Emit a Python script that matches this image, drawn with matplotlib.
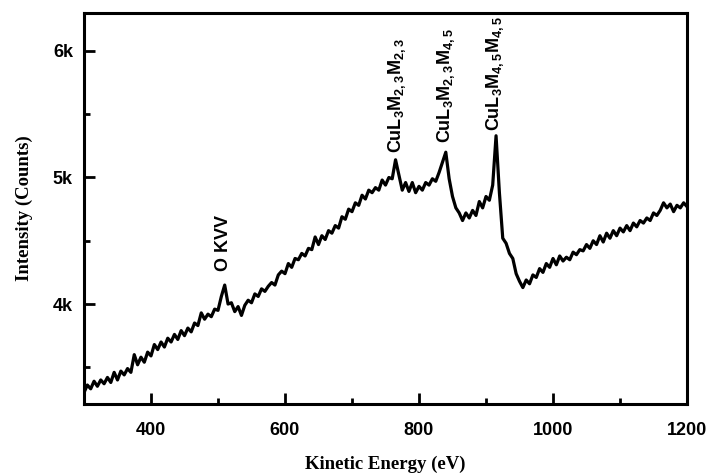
import matplotlib
matplotlib.use("Agg")
import matplotlib.pyplot as plt
from matplotlib.ticker import MultipleLocator, FuncFormatter

# ---- data ----
energy = [300, 305, 310, 315, 320, 325, 330, 335, 340, 345, 350, 355, 360, 365, 370,
          375, 380, 385, 390, 395, 400, 405, 410, 415, 420, 425, 430, 435, 440, 445,
          450, 455, 460, 465, 470, 475, 480, 485, 490, 495, 500, 505, 510, 515, 520,
          525, 530, 535, 540, 545, 550, 555, 560, 565, 570, 575, 580, 585, 590, 595,
          600, 605, 610, 615, 620, 625, 630, 635, 640, 645, 650, 655, 660, 665, 670,
          675, 680, 685, 690, 695, 700, 705, 710, 715, 720, 725, 730, 735, 740, 745,
          750, 755, 760, 765, 770, 775, 780, 785, 790, 795, 800, 805, 810, 815, 820,
          825, 830, 835, 840, 845, 850, 855, 860, 865, 870, 875, 880, 885, 890, 895,
          900, 905, 910, 915, 920, 925, 930, 935, 940, 945, 950, 955, 960, 965, 970,
          975, 980, 985, 990, 995, 1000, 1005, 1010, 1015, 1020, 1025, 1030, 1035, 1040, 1045,
          1050, 1055, 1060, 1065, 1070, 1075, 1080, 1085, 1090, 1095, 1100, 1105, 1110, 1115, 1120,
          1125, 1130, 1135, 1140, 1145, 1150, 1155, 1160, 1165, 1170, 1175, 1180, 1185, 1190, 1195,
          1200]
counts = [3300, 3360, 3330, 3390, 3350, 3400, 3370, 3420, 3380, 3460, 3400, 3470, 3440, 3490, 3460,
          3600, 3520, 3580, 3540, 3620, 3590, 3680, 3640, 3700, 3660, 3730, 3700, 3760, 3720, 3790,
          3750, 3810, 3780, 3850, 3830, 3930, 3880, 3920, 3900, 3960, 3950, 4060, 4150, 4000, 4010,
          3940, 3980, 3910, 3990, 4030, 4010, 4080, 4060, 4120, 4100, 4140, 4170, 4150, 4230, 4260,
          4240, 4320, 4290, 4360, 4350, 4400, 4380, 4440, 4430, 4530, 4470, 4540, 4510, 4580, 4560,
          4620, 4600, 4690, 4670, 4750, 4730, 4800, 4780, 4860, 4830, 4900, 4880, 4920, 4900, 4980,
          4940, 5000, 4990, 5140, 5020, 4900, 4960, 4890, 4960, 4880, 4930, 4900, 4960, 4940, 4990,
          4970, 5040, 5120, 5200, 4990, 4850, 4760, 4720, 4660, 4720, 4680, 4740, 4700, 4810, 4760,
          4850, 4820, 4940, 5330, 4880, 4520, 4480, 4400, 4360, 4240, 4180, 4130, 4190, 4160, 4230,
          4210, 4280, 4250, 4320, 4290, 4360, 4310, 4380, 4340, 4370, 4350, 4410, 4390, 4430, 4420,
          4470, 4440, 4500, 4470, 4540, 4490, 4560, 4520, 4580, 4540, 4600, 4570, 4620, 4580, 4640,
          4610, 4660, 4640, 4680, 4660, 4720, 4700, 4740, 4800, 4760, 4790, 4730, 4780, 4760, 4800,
          4770]

peak_labels = ["O KVV", r"CuL$_3$M$_{2,3}$M$_{2,3}$", r"CuL$_3$M$_{2,3}$M$_{4,5}$", r"CuL$_3$M$_{4,5}$M$_{4,5}$"]
peak_x = [508, 767, 841, 914]
peak_label_y = [4265, 5190, 5275, 5370]

x_ticks = [400, 600, 800, 1000, 1200]
y_ticks = [4000, 5000, 6000]

# ---- styling ----
plt.rcParams['mathtext.fontset'] = 'custom'
plt.rcParams['mathtext.rm'] = 'Liberation Sans:bold'
plt.rcParams['mathtext.bf'] = 'Liberation Sans:bold'
plt.rcParams['mathtext.it'] = 'Liberation Sans:bold'
plt.rcParams['mathtext.sf'] = 'Liberation Sans:bold'
plt.rcParams['mathtext.default'] = 'rm'

fig = plt.figure(figsize=(7.14, 4.76), dpi=100)
ax = fig.add_axes([84 / 714, 1 - 404 / 476, (687 - 84) / 714, (404 - 13) / 476])

ax.plot(energy, counts, color='black', linewidth=2.3)

ax.set_xlim(300, 1200)
ax.set_ylim(3210, 6300)

ax.set_xticks(x_ticks)
ax.set_yticks(y_ticks)
ax.xaxis.set_minor_locator(MultipleLocator(100))
ax.yaxis.set_minor_locator(MultipleLocator(500))
ax.yaxis.set_major_formatter(FuncFormatter(lambda v, p: f"{int(round(v / 1000))}k"))

for s in ax.spines.values():
    s.set_linewidth(2.2)

ax.tick_params(which='major', direction='in', length=8, width=2.0)
ax.tick_params(which='minor', direction='in', length=4.5, width=2.0)
ax.tick_params(axis='x', which='major', pad=13)
ax.tick_params(axis='y', which='major', pad=8)
for lab in ax.get_xticklabels() + ax.get_yticklabels():
    lab.set_fontfamily('Liberation Sans')
    lab.set_fontweight('bold')
    lab.set_fontsize(13)

ax.set_xlabel("Kinetic Energy (eV)", fontfamily='Liberation Serif', fontweight='bold',
              fontsize=13.5, labelpad=12)
ax.set_ylabel("Intensity (Counts)", fontfamily='Liberation Serif', fontweight='bold',
              fontsize=13.5, labelpad=14)

for lbl, px, py in zip(peak_labels, peak_x, peak_label_y):
    ax.text(px, py, lbl, rotation=90, ha='center', va='bottom',
            fontfamily='Liberation Sans', fontweight='bold', fontsize=13)

fig.savefig("out.png", dpi=100)
